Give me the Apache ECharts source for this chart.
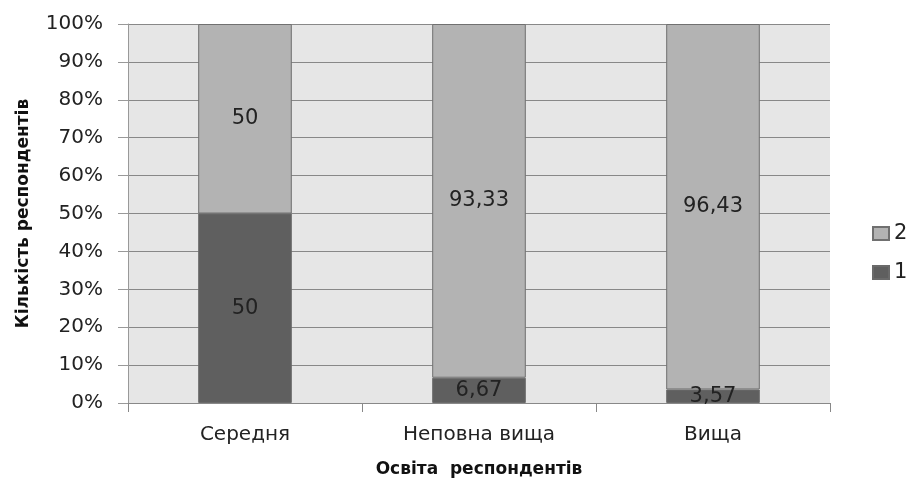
<!DOCTYPE html>
<html><head><meta charset="utf-8">
<script src="https://cdn.jsdelivr.net/npm/echarts@6/dist/echarts.min.js"></script>
<style>html,body{margin:0;padding:0;background:#fff;overflow:hidden}#c{width:908px;height:481px}</style>
</head><body><div id="c"></div>
<script>
const categories = ['Середня', 'Неповна вища', 'Вища'];
const series1 = [50, 6.67, 3.57];
const series2 = [50, 93.33, 96.43];
const yTicks = [0, 10, 20, 30, 40, 50, 60, 70, 80, 90, 100];
const seriesNames = ['1', '2'];

const fmt = v => String(v).replace('.', ',');
const font = 'DejaVu Sans';
const chart = echarts.init(document.getElementById('c'));
const lbl = {show: true, position: 'inside', color: '#222', fontSize: 21, fontFamily: font, formatter: p => fmt(p.value)};
chart.setOption({
  animation: false,
  grid: {left: 128, right: 78, top: 24, bottom: 78, show: true, backgroundColor: '#e6e6e6', borderWidth: 0,
         containLabel: false, outerBoundsMode: 'none'},
  legend: {
    orient: 'vertical', left: 872, top: 223, padding: 0, itemGap: 18, itemWidth: 16, itemHeight: 13,
    data: ['2', '1'], icon: 'rect',
    textStyle: {fontSize: 21, color: '#222', fontFamily: font}
  },
  xAxis: {
    type: 'category', data: categories,
    axisLine: {lineStyle: {color: '#888'}},
    axisTick: {show: true, length: 9, lineStyle: {color: '#888'}},
    axisLabel: {fontSize: 20, color: '#222', fontFamily: font, margin: 22},
    name: 'Освіта  респондентів', nameLocation: 'middle', nameGap: 58, nameMoveOverlap: false,
    nameTextStyle: {fontSize: 17, fontWeight: 'bold', color: '#111', fontFamily: font}
  },
  yAxis: {
    type: 'value', min: 0, max: 100, interval: 10,
    axisLine: {show: true, lineStyle: {color: '#999'}},
    axisTick: {show: true, length: 10, lineStyle: {color: '#999'}},
    splitLine: {lineStyle: {color: '#888'}},
    axisLabel: {fontSize: 20, color: '#222', fontFamily: font, margin: 25,
      formatter: v => yTicks.includes(v) ? v + '%' : ''},
    name: 'Кількість респондентів', nameLocation: 'middle', nameGap: 96, nameMoveOverlap: false,
    nameTextStyle: {fontSize: 17, fontWeight: 'bold', color: '#111', fontFamily: font}
  },
  series: [
    {name: seriesNames[0], type: 'bar', stack: 's', data: series1, barWidth: '40%',
     itemStyle: {color: '#5f5f5f', borderColor: '#6a6a6a', borderWidth: 1}, label: lbl},
    {name: seriesNames[1], type: 'bar', stack: 's', data: series2, barWidth: '40%',
     itemStyle: {color: '#b3b3b3', borderColor: '#707070', borderWidth: 1}, label: lbl}
  ]
});
</script></body></html>
